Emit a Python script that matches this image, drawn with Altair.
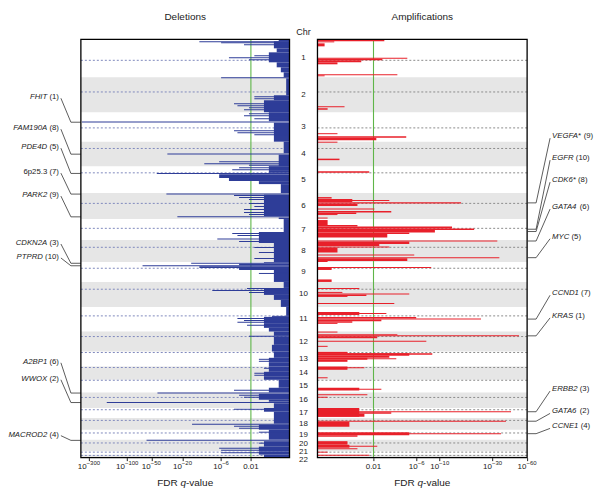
import altair as alt
import pandas as pd

FONT = "Liberation Sans"
H = 419
W_LANNO, W_LEFT, W_MID, W_RIGHT, W_RANNO = 73, 209, 28, 210, 66

BLUE = "#2e3d98"
RED = "#e8202a"
BAND = "#e6e6e6"
GREEN = "#5fb548"

# ---------------- chromosome layout (genome index units, 0 = top) ----------------
chrom = [str(i) for i in range(1, 23)]
chr_start = [0, 38, 73, 102.5, 127, 154, 180, 201, 223, 243, 268, 292.7, 312.7,
             327.7, 341, 353.7, 369.3, 379.3, 391, 401, 412.7, 416]
chr_end = chr_start[1:] + [419]
centromere = [21, 52.7, 88.7, 109.3, 133.7, 164.3, 189.3, 208.3, 229.3, 250.3, 277,
              297.7, 313.7, 328.7, 341.5, 358.7, 371, 381.7, 394.3, 404.3, 413.5, 416.8]
chr_label_shift = [0] * 19 + [-2, -0.5, 4]

# ---------------- deletion profile: (start, end, -log10 q) ----------------
del_segments = [
    # chr1
    (0, 2, 0.36), (2, 9, 0.56), (9, 13, 0.44), (13, 23, 0.8), (23, 28, 0.44), (28, 33, 0.28),
    (33, 38, 0.18), (2, 3, 12), (3, 4, 6), (5, 6, 2.65), (16, 17, 1.72), (18, 19, 4.6),
    (20, 21, 2.17),
    # chr2
    (38, 39, 6.0), (39, 56, 0.1), (56, 61, 0.56), (61, 73, 1.07), (57, 58, 1.72),
    (59, 60, 1.72), (64, 65, 3.85), (66, 67, 3.4), (68, 69, 2.17), (70, 71, 2.65),
    # chr3
    (73, 82, 0.8), (74, 75, 2.17), (76, 77, 2.65), (79, 80, 1.72), (82.3, 83.3, 366),
    (83.5, 102.5, 0.56), (91, 92, 3.85), (93, 94, 3.4), (95, 96, 1.72),
    # chr4
    (102.5, 114, 0.18), (114.3, 115.3, 31.3), (115.5, 127, 0.36), (122, 123, 6.4),
    (124, 125, 10.3), (125.5, 126.5, 2.17),
    # chr5
    (127, 131, 0.8), (128, 129, 3.2), (130, 131, 4.1), (131, 133.7, 0.8),
    (133.8, 134.8, 42.6), (135, 139, 6.4), (139, 142, 4.6), (142, 145, 1.39), (145, 154, 0.28),
    # chr6
    (154.3, 155.3, 32.2), (155.5, 177, 1.07), (156, 157, 3.85), (158, 159, 3.2),
    (160, 161, 2.17), (164, 165, 2.17), (167, 168, 1.72), (170, 171, 2.65),
    (173, 174, 2.65), (175, 176, 2.17), (177.3, 178.3, 23.3), (178.5, 180, 0.36),
    # chr7
    (180, 193, 0.18), (193, 201, 1.39), (194, 195, 4.1), (196, 197, 3.4),
    (199.5, 200.5, 6.8),
    # chr8
    (201, 204, 1.39), (202, 203, 3.2), (204, 223, 0.56), (208, 209, 1.72),
    (213, 214, 1.39), (219, 220, 1.72),
    # chr9
    (223, 223.8, 1.07), (223.8, 224.8, 15.4), (224.8, 226.3, 3.2), (226.3, 227.3, 64.4),
    (227.3, 229, 12), (229, 231, 3.2), (231, 243, 0.56), (234, 235, 1.39),
    # chr10
    (243, 249, 0.18), (249, 250, 2.35), (250, 252, 1.07), (251, 252, 8.0),
    (252, 256, 1.07), (253, 254, 2.17), (256, 261, 0.56), (261, 268, 0.28),
    # chr11
    (268, 277, 0.1), (277, 278, 0.65), (278, 285, 1.07), (279, 280, 3.4),
    (281, 282, 2.65), (283, 284, 3.4), (285, 289, 1.07), (286, 287, 2.35),
    (289, 292.7, 0.8),
    # chr12
    (292.7, 297, 0.56), (297, 298, 2.17), (298, 306, 0.56), (306, 312.7, 0.65),
    # chr13
    (312.7, 319, 0.56), (319, 324, 0.8), (320, 321, 1.39), (322, 323, 1.39),
    (324, 327.7, 0.8),
    # chr14
    (327.7, 333, 0.8), (329, 330, 1.07), (333, 338, 1.07), (334, 335, 1.72),
    (336, 337, 1.72), (338, 341, 1.07),
    # chr15
    (341, 349, 0.36), (349, 353.7, 0.8), (351, 352, 3.85),
    # chr16
    (353.8, 354.8, 41.8), (355, 361, 1.39), (356, 357, 3.2), (358, 359, 2.65),
    (361, 363, 0.8), (363.3, 364.3, 180), (364.5, 369.3, 0.56),
    # chr17
    (369.3, 373, 1.07), (370, 371, 3.85), (373, 379.3, 0.56),
    # chr18
    (379.3, 385, 0.56), (385, 386, 15), (386, 391, 1.39), (387, 388, 3.85),
    (389, 390, 3.2),
    # chr19
    (391, 401, 0.8), (393, 394, 1.39),
    # chr20
    (401.2, 402.2, 57.4), (402.5, 408, 1.07), (404, 405, 1.39), (408, 412.7, 1.39),
    (409, 410, 6.4), (411, 412, 6.0),
    # chr21
    (412.7, 416, 1.39), (413.5, 414.5, 6.0),
    # chr22
    (416, 419, 1.07),
]

# ---------------- amplification profile: (start, end, -log10 q) ----------------
amp_segments = [
    (0.5, 2, 2.71), (2, 3, 0.39), (4, 7, 0.15), (18.5, 19.5, 4.82), (19.5, 21, 2.57),
    (21, 23, 1.36), (23, 25, 0.48), (35, 36, 3.79), (36, 37, 0.15),
    (67, 68, 0.70), (69, 70.5, 0.22),
    (94, 95, 0.48), (97, 98.5, 4.70), (98.5, 101, 2.17),
    (102.5, 103.5, 0.48), (119.5, 121, 0.54),
    (132, 133.5, 1.76),
    (158, 159.5, 0.32), (160, 163, 0.98), (161, 162, 3.09), (163.2, 164.5, 15.7),
    (164.5, 167, 1.19), (169.5, 170.5, 2.05), (172, 173.5, 3.25), (173.5, 175, 1.14),
    (175, 176, 0.48), (178.5, 179.5, 0.22),
    (181, 186, 0.22), (186, 187.5, 1.19), (187.5, 189.5, 13.0), (189.5, 191, 20.6),
    (191, 193.5, 9.0), (193.5, 195, 5.05), (195, 197, 2.93), (197, 198.5, 2.93),
    (201.5, 202.5, 33), (202.5, 205, 5.05), (205, 207, 2.36), (207.5, 208.5, 3.09),
    (208.5, 213.5, 0.48), (215.5, 216.5, 5.67), (218.2, 219.2, 34.4), (219.2, 222, 4.82),
    (222, 223, 0.22),
    (228, 229, 8.3), (229, 231, 0.32), (240.5, 243, 0.32),
    (249, 250, 1.27), (253, 254, 0.63), (254.5, 255.5, 5.05), (255.5, 257, 1.61),
    (257, 258, 0.80), (264, 265, 3.51),
    (273, 276, 1.27), (274, 275, 2.86), (278, 279.7, 5.93), (279.7, 280.7, 23.7),
    (280.7, 282.5, 2.5), (282.5, 284, 0.98), (284, 285, 0.48),
    (292.7, 293.7, 0.48), (295.5, 296.5, 3.79), (296.5, 297.5, 51), (297.5, 299.5, 2.23),
    (302, 303, 7.45), (307, 308, 0.22),
    (313, 314.5, 0.80), (314.5, 317, 5.05), (314.5, 316, 8.5), (317, 319, 3.09),
    (319, 321, 1.66), (319.5, 320.5, 3.69), (321, 323, 0.80),
    (327.7, 331, 0.80), (328.5, 329.5, 1.51), (338.5, 339.5, 0.22),
    (349, 351.7, 1.27), (350, 351, 2.50),
    (355.5, 356.5, 1.66), (358, 359, 0.22),
    (369.3, 378, 1.27), (372.5, 373.5, 43.5), (373.5, 375, 3.25), (375, 378, 1.51),
    (382, 383, 39.3), (383, 388, 0.87),
    (393.5, 396.5, 5.05), (394.5, 395.5, 35.6), (396.5, 398, 1.19),
    (402.5, 406, 0.80), (406, 409, 0.87), (407, 408, 2.23), (409.5, 410.5, 1.19),
    (413, 414, 0.22),
    (416, 417, 1.76),
]

# ---------------- axis ticks: value (-log10 q), base text, exponent ----------------
left_ticks = [2, 6, 20, 50, 100, 300]
left_tick_base = ["0.01", "10", "10", "10", "10", "10"]
left_tick_exp = ["", "−6", "−20", "−50", "−100", "−300"]
right_ticks = [2, 6, 10, 30, 60]
right_tick_base = ["0.01", "10", "10", "10", "10"]
right_tick_exp = ["", "−6", "−10", "−30", "−60"]
q_threshold = 2  # -log10(0.01)

# ---------------- peak annotations ----------------
left_genes = ["FHIT", "FAM190A", "PDE4D", "6p25.3", "PARK2", "CDKN2A", "PTPRD", "A2BP1", "WWOX", "MACROD2"]
left_ranks = [1, 8, 5, 7, 9, 3, 10, 6, 2, 4]
left_italic = [True, True, True, False, True, True, True, True, True, True]
left_label_y = [58, 89, 108, 133, 156, 204, 218, 323, 340, 396]
left_target = [83, 115, 134.3, 155, 177.8, 224.3, 226.8, 354.3, 363.8, 401.7]

right_genes = ["VEGFA*", "EGFR", "CDK6*", "GATA4", "MYC", "CCND1", "KRAS", "ERBB2", "GATA6", "CCNE1"]
right_ranks = [9, 10, 8, 6, 5, 7, 1, 3, 2, 4]
right_label_y = [97, 119, 141, 168, 197.7, 254.3, 277, 350.3, 372.7, 387.7]
right_target = [163.8, 190.2, 192.5, 202, 218.7, 280.2, 297, 373, 382.5, 395]

# ---------------- helpers ----------------
CW = {'A': 667, 'B': 667, 'C': 722, 'D': 722, 'E': 667, 'F': 611, 'G': 778, 'H': 722, 'I': 278,
      'K': 667, 'L': 556, 'M': 833, 'N': 722, 'O': 778, 'P': 667, 'R': 722, 'S': 667, 'T': 611,
      'V': 667, 'W': 944, 'X': 667, 'Y': 667, '(': 333, ')': 333, '*': 389, ' ': 278, '.': 278,
      'p': 556, 'q': 556, '-': 333, '−': 584, 'v': 500, 'a': 556, 'l': 222, 'u': 556, 'e': 556}


def text_w(s, size):
    return sum(CW.get(c, 556) for c in s) * size / 1000.0


yscale = alt.Scale(domain=[0, H], reverse=True, nice=False, zero=False)
LABEL_FS = 7.8
TICK_FS = 8
EXP_FS = 6

chr_df = pd.DataFrame({"chr": chrom, "start": chr_start, "end": chr_end, "cen": centromere,
                       "shift": chr_label_shift})
chr_df["label_y"] = (chr_df["start"] + chr_df["end"]) / 2 + chr_df["shift"]
band_df = chr_df[[int(c) % 2 == 0 for c in chrom]]


def fdr_title(width):
    parts = [("FDR ", "normal"), ("q", "italic"), ("-value", "normal")]
    total = sum(text_w(p, 10) for p, _ in parts)
    x = width / 2 - total / 2
    layers = []
    for p, style in parts:
        layers.append(alt.Chart(alt.Data(values=[{}])).mark_text(
            align="left", baseline="middle", fontSize=10, font=FONT, fontStyle=style, color="#222"
        ).encode(x=alt.value(x), y=alt.value(H + 25), text=alt.value(p.strip())))
        x += text_w(p, 10)
    return layers


def tick_labels(ticks, bases, exps, xscale):
    layers = []
    for t, b, e in zip(ticks, bases, exps):
        wb = text_w(b, TICK_FS)
        we = text_w(e, EXP_FS)
        total = wb + we
        d = alt.Data(values=[{"v": t}])
        layers.append(alt.Chart(d).mark_text(
            align="left", baseline="middle", fontSize=TICK_FS, font=FONT, color="#222", dx=-total / 2
        ).encode(x=alt.X("v:Q", scale=xscale), y=alt.value(H + 9), text=alt.value(b)))
        if e:
            layers.append(alt.Chart(d).mark_text(
                align="left", baseline="middle", fontSize=EXP_FS, font=FONT, color="#222",
                dx=-total / 2 + wb
            ).encode(x=alt.X("v:Q", scale=xscale), y=alt.value(H + 5.5), text=alt.value(e)))
    return layers


def profile_panel(segments, color, dot_color, domain_max, reverse, ticks, bases, exps, width, title):
    seg_df = pd.DataFrame(segments, columns=["y0", "y1", "v"])
    seg_df["base"] = 0
    xscale = alt.Scale(type="symlog", constant=1, domain=[0, domain_max], reverse=reverse, nice=False)
    axis = alt.Axis(values=ticks, labels=False, title=None, tickSize=3,
                    domain=False, grid=False, tickColor="#222")
    bands = alt.Chart(band_df).mark_rect(color=BAND).encode(
        y=alt.Y("start:Q", scale=yscale, axis=None), y2="end:Q",
        x=alt.value(0), x2=alt.value(width))
    cen = alt.Chart(chr_df).mark_rule(color=dot_color, strokeDash=[2, 2], strokeWidth=1).encode(
        y=alt.Y("cen:Q", scale=yscale, axis=None), x=alt.value(0), x2=alt.value(width))
    thr = alt.Chart(alt.Data(values=[{"q": q_threshold}])).mark_rule(color=GREEN, strokeWidth=1.1).encode(
        x=alt.X("q:Q", scale=xscale, axis=axis), y=alt.value(0), y2=alt.value(H))
    segs = alt.Chart(seg_df).mark_rect(color=color).encode(
        x=alt.X("v:Q", scale=xscale, axis=axis), x2="base:Q",
        y=alt.Y("y0:Q", scale=yscale, axis=None), y2="y1:Q")
    frame = alt.Chart(alt.Data(values=[{}])).mark_rect(filled=False, stroke="black", strokeWidth=1.3).encode(
        x=alt.value(0), x2=alt.value(width), y=alt.value(0), y2=alt.value(H))
    return alt.layer(bands, cen, thr, segs, frame, *tick_labels(ticks, bases, exps, xscale),
                     *fdr_title(width)).properties(
        width=width, height=H,
        title=alt.TitleParams(title, fontSize=10, fontWeight="normal", font=FONT, color="#222",
                              offset=17, anchor="middle"))


left_plot = profile_panel(del_segments, BLUE, "#7f89bd", 377, True, left_ticks, left_tick_base,
                          left_tick_exp, W_LEFT, "Deletions")
right_plot = profile_panel(amp_segments, RED, "#8c8c8c", 60, False, right_ticks, right_tick_base,
                           right_tick_exp, W_RIGHT, "Amplifications")

# middle chromosome labels
mid = alt.Chart(chr_df).mark_text(fontSize=8, font=FONT, color="#222", baseline="middle").encode(
    x=alt.value(W_MID / 2), y=alt.Y("label_y:Q", scale=yscale, axis=None), text="chr:N"
).properties(width=W_MID, height=H,
             title=alt.TitleParams("Chr", fontSize=9, fontWeight="normal", font=FONT, color="#222",
                                   offset=2, anchor="middle"))

# left annotations
L_END = 51
ldf = pd.DataFrame({"gene": left_genes, "rank": left_ranks, "italic": left_italic,
                    "label_y": left_label_y, "target": left_target})
ldf["rank_txt"] = ["(%d)" % r for r in left_ranks]
ldf["rank_x"] = L_END
ldf["gene_x"] = [L_END - text_w(t, LABEL_FS) - text_w(" ", LABEL_FS) for t in ldf["rank_txt"]]
ldf["line_top"] = ldf["label_y"] + 1

lY = alt.Y("label_y:Q", scale=yscale, axis=None)
l_gene_it = alt.Chart(ldf).transform_filter("datum.italic").mark_text(
    align="right", baseline="middle", fontSize=LABEL_FS, font=FONT, fontStyle="italic", color="#222"
).encode(x=alt.X("gene_x:Q", scale=None), y=lY, text="gene:N")
l_gene_rm = alt.Chart(ldf).transform_filter("!datum.italic").mark_text(
    align="right", baseline="middle", fontSize=LABEL_FS, font=FONT, color="#222"
).encode(x=alt.X("gene_x:Q", scale=None), y=lY, text="gene:N")
l_rank = alt.Chart(ldf).mark_text(
    align="right", baseline="middle", fontSize=LABEL_FS, font=FONT, color="#222"
).encode(x=alt.X("rank_x:Q", scale=None), y=lY, text="rank_txt:N")
l_diag = alt.Chart(ldf).mark_rule(color="#333", strokeWidth=0.8).encode(
    x=alt.value(L_END + 2), x2=alt.value(63),
    y=alt.Y("line_top:Q", scale=yscale, axis=None), y2="target:Q")
l_hor = alt.Chart(ldf).mark_rule(color="#333", strokeWidth=0.8).encode(
    x=alt.value(63), x2=alt.value(W_LANNO),
    y=alt.Y("target:Q", scale=yscale, axis=None))
left_anno = alt.layer(l_diag, l_hor, l_gene_it, l_gene_rm, l_rank).properties(width=W_LANNO, height=H)

# right annotations
R_START = 25
rdf = pd.DataFrame({"gene": right_genes, "rank": right_ranks,
                    "label_y": right_label_y, "target": right_target})
rdf["rank_txt"] = ["(%d)" % r for r in right_ranks]
rdf["gene_x"] = R_START
rdf["rank_x"] = [R_START + text_w(g, LABEL_FS) + text_w(" ", LABEL_FS) for g in right_genes]
rdf["line_top"] = rdf["label_y"] + 2

rY = alt.Y("label_y:Q", scale=yscale, axis=None)
r_gene = alt.Chart(rdf).mark_text(
    align="left", baseline="middle", fontSize=LABEL_FS, font=FONT, fontStyle="italic", color="#222"
).encode(x=alt.X("gene_x:Q", scale=None), y=rY, text="gene:N")
r_rank = alt.Chart(rdf).mark_text(
    align="left", baseline="middle", fontSize=LABEL_FS, font=FONT, color="#222"
).encode(x=alt.X("rank_x:Q", scale=None), y=rY, text="rank_txt:N")
r_hor = alt.Chart(rdf).mark_rule(color="#333", strokeWidth=0.8).encode(
    x=alt.value(0), x2=alt.value(9), y=alt.Y("target:Q", scale=yscale, axis=None))
r_diag = alt.Chart(rdf).mark_rule(color="#333", strokeWidth=0.8).encode(
    x=alt.value(9), x2=alt.value(R_START - 2),
    y=alt.Y("target:Q", scale=yscale, axis=None), y2="line_top:Q")
right_anno = alt.layer(r_hor, r_diag, r_gene, r_rank).properties(width=W_RANNO, height=H)

chart = alt.hconcat(left_anno, left_plot, mid, right_plot, right_anno, spacing=0, bounds="flush").properties(
    padding={"left": 0, "top": 3, "right": 0, "bottom": 0}
).configure(font=FONT).configure_view(stroke="transparent", strokeWidth=0)

chart.save("out.html", embed_options={"renderer": "svg", "actions": False})
